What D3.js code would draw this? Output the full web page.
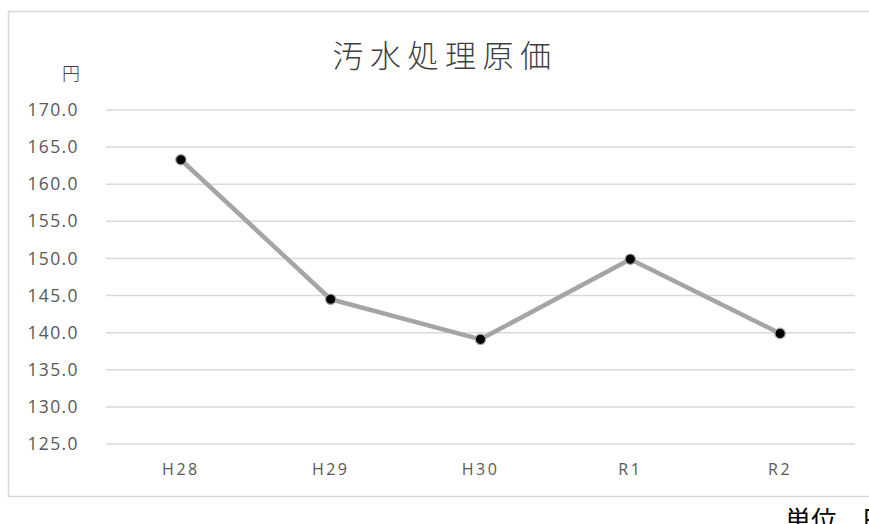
<!DOCTYPE html>
<html>
<head>
<meta charset="utf-8">
<script src="https://cdn.jsdelivr.net/npm/d3@7"></script>
<style>
  html, body { margin: 0; padding: 0; background: #fff; }
  svg { display: block; }
</style>
</head>
<body>
<svg id="chart" width="869" height="524"></svg>
<script>
// 汚水処理原価 (円) by fiscal year
const categories = ["H28", "H29", "H30", "R1", "R2"];
const costs = [163.3, 144.5, 139.1, 149.9, 139.9];
const yTicks = [125, 130, 135, 140, 145, 150, 155, 160, 165, 170];
const titleText = "汚水処理原価";
const yUnitText = "円";
const unitNote = "単位\u3000円";

const svg = d3.select("#chart");
const plot = { left: 106, right: 855, top: 110, bottom: 444 };
const latin = "'Open Sans', 'Noto Sans', sans-serif";
const cjk = "'Noto Sans CJK JP', sans-serif";

// outer chart frame (runs off the right edge)
svg.append("rect")
  .attr("x", 8.5).attr("y", 11.5)
  .attr("width", 900).attr("height", 485)
  .attr("fill", "#fff")
  .attr("stroke", "#d9d9d9").attr("stroke-width", 1.5);

const x = d3.scaleBand().domain(categories).range([plot.left, plot.right]);
const y = d3.scaleLinear().domain([125, 170]).range([plot.bottom, plot.top]);

// horizontal gridlines
svg.append("g").selectAll("line").data(yTicks).join("line")
  .attr("x1", plot.left).attr("x2", plot.right)
  .attr("y1", d => y(d)).attr("y2", d => y(d))
  .attr("stroke", "#d9d9d9").attr("stroke-width", 1.5);

// y axis labels
const yAxis = d3.axisLeft(y).tickValues(yTicks).tickFormat(d3.format(".1f")).tickSize(0).tickPadding(27);
const gy = svg.append("g").attr("transform", `translate(${plot.left},0)`).call(yAxis);
gy.select(".domain").remove();
gy.selectAll("text")
  .attr("fill", "#595959")
  .style("font-family", latin)
  .style("font-size", "17.5px")
  .style("letter-spacing", "1.4px");

// x axis labels
const xAxis = d3.axisBottom(x).tickSize(0).tickPadding(20);
const gx = svg.append("g").attr("transform", `translate(0,${plot.bottom})`).call(xAxis);
gx.select(".domain").remove();
gx.selectAll("text")
  .attr("fill", "#595959")
  .style("font-family", latin)
  .style("font-size", "16px")
  .style("letter-spacing", "2.5px");

// series line
const cx = d => x(d) + x.bandwidth() / 2;
const line = d3.line().x((d, i) => cx(categories[i])).y(d => y(d));
svg.append("path")
  .datum(costs)
  .attr("d", line)
  .attr("fill", "none")
  .attr("stroke", "#a5a5a5")
  .attr("stroke-width", 4.5)
  .attr("stroke-linejoin", "round");

// markers
svg.append("g").selectAll("circle").data(costs).join("circle")
  .attr("cx", (d, i) => cx(categories[i]))
  .attr("cy", d => y(d))
  .attr("r", 5.2)
  .attr("fill", "#000")
  .attr("stroke", "#a5a5a5")
  .attr("stroke-width", 1.2);

// title
svg.append("text")
  .attr("x", 445).attr("y", 67)
  .attr("text-anchor", "middle")
  .attr("fill", "#404040")
  .style("font-family", cjk)
  .style("font-size", "31px")
  .style("font-weight", 300)
  .style("letter-spacing", "6.5px")
  .text(titleText);

// unit label above y axis
svg.append("text")
  .attr("x", 71).attr("y", 80)
  .attr("text-anchor", "middle")
  .attr("fill", "#404040")
  .style("font-family", cjk)
  .style("font-size", "18px")
  .style("font-weight", 300)
  .text(yUnitText);

// unit note below frame
svg.append("text")
  .attr("x", 785).attr("y", 530)
  .attr("fill", "#000")
  .style("font-family", cjk)
  .style("font-size", "26px")
  .text(unitNote);
</script>
</body>
</html>
